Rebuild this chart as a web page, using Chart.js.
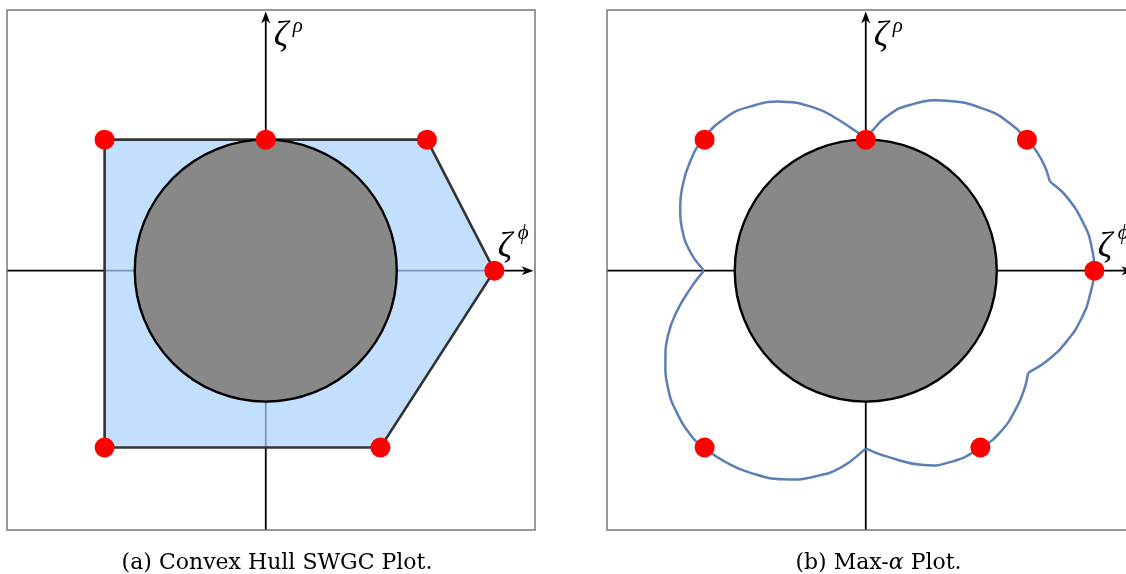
<!DOCTYPE html>
<html>
<head>
<meta charset="utf-8">
<script src="https://cdn.jsdelivr.net/npm/chart.js@4.4.1/dist/chart.umd.min.js"></script>
<style>
  html, body { margin: 0; padding: 0; background: #fff; width: 1126px; height: 574px; overflow: hidden; }
  canvas { position: absolute; top: 0; }
  #hullChart { left: 0; }
  #alphaChart { left: 600px; }
</style>
</head>
<body>
<canvas id="hullChart" width="542" height="574"></canvas>
<canvas id="alphaChart" width="542" height="574"></canvas>
<script>
// axis window shared by both panels (in units of the obstacle radius)
const xRange = [-1.975, 2.055];
const yRange = [-1.98, 1.99];

// obstacle disc at the origin
const obstacleRadius = 1;

// sample points (red), same set in both panels
const sampleX = [-1.23, 0, 1.23, 1.745, 0.875, -1.23];
const sampleY = [1.0, 1.0, 1.0, 0, -1.35, -1.35];

// convex hull corners, walked clockwise
const hullX = [-1.23, 1.23, 1.745, 0.875, -1.23];
const hullY = [1.0, 1.0, 0, -1.35, -1.35];

// max-alpha boundary, split at its cusps / kinks
const arcUpperLeft = [[0, 1.02], [-0.069, 1.06], [-0.221, 1.160], [-0.374, 1.237], [-0.630, 1.290],
  [-0.885, 1.252], [-1.069, 1.168], [-1.244, 1.0], [-1.344, 0.824], [-1.401, 0.634], [-1.416, 0.489],
  [-1.401, 0.313], [-1.336, 0.137], [-1.237, 0]];
const arcLowerLeft = [[-1.237, 0], [-1.344, -0.145], [-1.443, -0.313], [-1.508, -0.489], [-1.529, -0.692],
  [-1.510, -0.893], [-1.447, -1.074], [-1.325, -1.270], [-1.237, -1.350], [-1.069, -1.462], [-0.885, -1.542],
  [-0.630, -1.593], [-0.374, -1.568], [-0.175, -1.494], [0, -1.359]];
const arcLowerRight = [[0, -1.359], [0.158, -1.418], [0.437, -1.484], [0.664, -1.456], [0.874, -1.353],
  [1.023, -1.237], [1.150, -1.048], [1.214, -0.893], [1.239, -0.781]];
const arcRight = [[1.239, -0.781], [1.379, -0.692], [1.532, -0.542], [1.647, -0.363], [1.712, -0.183],
  [1.740, 0], [1.723, 0.185], [1.661, 0.363], [1.532, 0.565], [1.405, 0.682]];
const arcUpperRight = [[1.405, 0.682], [1.368, 0.794], [1.305, 0.908], [1.233, 1.0], [1.099, 1.125],
  [0.921, 1.227], [0.616, 1.298], [0.336, 1.265], [0.158, 1.176], [0.044, 1.063], [0, 1.02]];

const captionA = [['(a) Convex Hull SWGC Plot.', false]];
const captionB = [['(b) Max-', false], ['α', true], [' Plot.', false]];

const serif = '"Liberation Serif", serif';
const capFont = '"DejaVu Serif", serif';

const toXY = (xs, ys) => xs.map((v, i) => ({x: v, y: ys[i]}));
const pairs = arr => arr.map(p => ({x: p[0], y: p[1]}));

function drawArrow(ctx, tx, ty, dx, dy) {
  const len = 12, half = 4.5, notch = 3.5;
  const nx = -dy, ny = dx;
  ctx.beginPath();
  ctx.moveTo(tx, ty);
  ctx.lineTo(tx - dx * len + nx * half, ty - dy * len + ny * half);
  ctx.lineTo(tx - dx * (len - notch), ty - dy * (len - notch));
  ctx.lineTo(tx - dx * len - nx * half, ty - dy * len - ny * half);
  ctx.closePath();
  ctx.fill();
}

// axes with arrows underneath, frame + labels + caption on top
const decor = {
  id: 'decor',
  beforeDatasetsDraw(chart) {
    const {ctx, chartArea: a, scales: {x, y}} = chart;
    const x0 = x.getPixelForValue(0), y0 = y.getPixelForValue(0);
    ctx.save();
    ctx.strokeStyle = '#000';
    ctx.fillStyle = '#000';
    ctx.lineWidth = 1.8;
    ctx.beginPath();
    ctx.moveTo(x0, a.bottom);
    ctx.lineTo(x0, a.top + 10);
    ctx.moveTo(a.left, y0);
    ctx.lineTo(a.right - 10, y0);
    ctx.stroke();
    drawArrow(ctx, x0, a.top + 1.5, 0, -1);
    drawArrow(ctx, a.right - 1.5, y0, 1, 0);
    ctx.restore();
  },
  afterDatasetsDraw(chart, args, opts) {
    const {ctx, chartArea: a, scales: {x, y}} = chart;
    const x0 = x.getPixelForValue(0), y0 = y.getPixelForValue(0);
    ctx.save();
    ctx.strokeStyle = '#6e6e6e';
    ctx.lineWidth = 1.4;
    ctx.strokeRect(a.left, a.top, a.right - a.left, a.bottom - a.top);

    ctx.fillStyle = '#000';
    ctx.textBaseline = 'alphabetic';
    ctx.textAlign = 'left';
    ctx.font = 'italic 36px ' + serif;
    ctx.fillText('ζ', x0 + 8, a.top + 36);
    ctx.fillText('ζ', x0 + 232, y0 - 14);
    ctx.font = 'italic 21px ' + serif;
    ctx.fillText('ρ', x0 + 27, a.top + 22);
    ctx.fillText('ϕ', x0 + 252, y0 - 32);

    // caption, pieces may switch to italic
    const parts = opts.caption || [];
    const fontOf = it => (it ? 'italic ' : '') + '22px ' + capFont;
    let w = 0;
    parts.forEach(([t, it]) => { ctx.font = fontOf(it); w += ctx.measureText(t).width; });
    let cx = (a.left + a.right) / 2 + opts.captionShift - w / 2;
    parts.forEach(([t, it]) => {
      ctx.font = fontOf(it);
      ctx.fillText(t, cx, 569);
      cx += ctx.measureText(t).width;
    });
    ctx.restore();
  }
};

function baseOptions(caption, captionShift) {
  return {
    responsive: false,
    animation: false,
    events: [],
    layout: {autoPadding: false, padding: {left: 7, right: 7, top: 10, bottom: 44}},
    scales: {
      x: {type: 'linear', min: xRange[0], max: xRange[1], display: false},
      y: {type: 'linear', min: yRange[0], max: yRange[1], display: false}
    },
    plugins: {
      legend: {display: false},
      tooltip: {enabled: false},
      decor: {caption: caption, captionShift: captionShift}
    }
  };
}

const samplesDataset = () => ({
  data: toXY(sampleX, sampleY),
  showLine: false,
  pointRadius: 10,
  pointBorderWidth: 0,
  pointBackgroundColor: '#ff0000'
});

const discDataset = () => ({
  data: [{x: 0, y: 0}],
  showLine: false,
  pointRadius: c => {
    const s = c.chart.scales.x;
    return Math.abs(s.getPixelForValue(obstacleRadius) - s.getPixelForValue(0));
  },
  pointBorderWidth: 2.4,
  pointBorderColor: '#000',
  pointBackgroundColor: '#888888'
});

const arcDataset = arr => ({
  data: pairs(arr),
  showLine: true,
  tension: 0.5,
  borderColor: '#5b7fb6',
  borderWidth: 2.5,
  pointRadius: 0,
  fill: false
});

new Chart(document.getElementById('hullChart'), {
  type: 'scatter',
  data: {
    datasets: [
      samplesDataset(),
      discDataset(),
      {
        data: toXY(hullX.concat(hullX[0]), hullY.concat(hullY[0])),
        showLine: true,
        tension: 0,
        borderColor: '#333333',
        borderWidth: 2.6,
        backgroundColor: 'rgba(172, 210, 255, 0.72)',
        fill: 'shape',
        pointRadius: 0
      }
    ]
  },
  options: baseOptions(captionA, 6),
  plugins: [decor]
});

new Chart(document.getElementById('alphaChart'), {
  type: 'scatter',
  data: {
    datasets: [
      samplesDataset(),
      discDataset(),
      arcDataset(arcUpperLeft),
      arcDataset(arcLowerLeft),
      arcDataset(arcLowerRight),
      arcDataset(arcRight),
      arcDataset(arcUpperRight)
    ]
  },
  options: baseOptions(captionB, 7.5),
  plugins: [decor]
});
</script>
</body>
</html>
